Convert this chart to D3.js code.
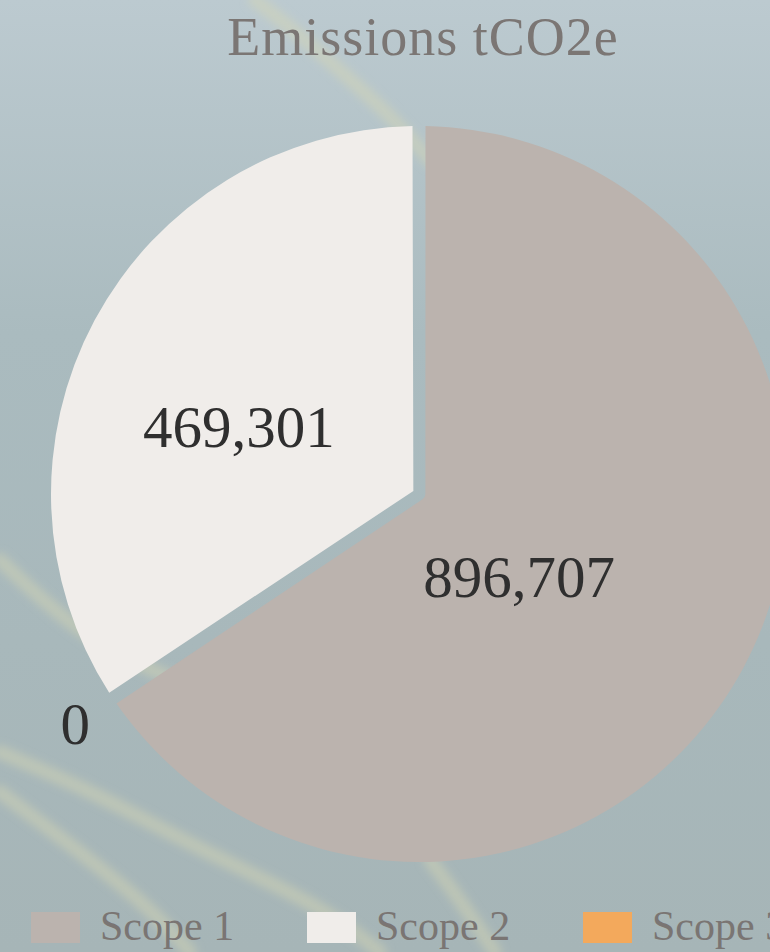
<!DOCTYPE html>
<html lang="en">
	<head>
		<meta charset="utf-8">
		<title>Emissions tCO2e</title>
		<script type="text/javascript" src="https://d3js.org/d3.v7.min.js"></script>
		<style type="text/css">
			html, body {
				margin: 0;
				padding: 0;
				overflow: hidden;
				background: #a7b7b9;
			}
			svg {
				display: block;
				font-family: "Liberation Serif", "DejaVu Serif", serif;
			}
		</style>
	</head>
	<body>
		<script type="text/javascript">

			//Data
			var categories = ["Scope 1", "Scope 2", "Scope 3"];
			var values = [896707, 469301, 0];
			var colors = ["#bbb3ae", "#f0edea", "#f3a95c"];
			//Order the slices run clockwise from the top
			var sliceOrder = ["Scope 1", "Scope 3", "Scope 2"];
			var title = "Emissions tCO2e";

			//Size
			var w = 770;
			var h = 952;
			var cx = 419;
			var cy = 494;
			var radius = 368;
			var gap = 13;

			var svg = d3.select("body")
						.append("svg")
						.attr("width", w)
						.attr("height", h);

			//Background, a soft photo-like wash
			var defs = svg.append("defs");
			var grad = defs.append("linearGradient")
						   .attr("id", "bg")
						   .attr("x1", 0).attr("y1", 0)
						   .attr("x2", 0).attr("y2", 1);
			grad.append("stop").attr("offset", "0%").attr("stop-color", "#bccad0");
			grad.append("stop").attr("offset", "35%").attr("stop-color", "#aabbbf");
			grad.append("stop").attr("offset", "100%").attr("stop-color", "#a6b5b7");

			defs.append("filter")
				.attr("id", "blur")
				.attr("x", "-20%").attr("y", "-20%")
				.attr("width", "140%").attr("height", "140%")
				.append("feGaussianBlur")
				.attr("stdDeviation", 4);

			svg.append("rect")
			   .attr("width", w)
			   .attr("height", h)
			   .attr("fill", "url(#bg)");

			//Streaks in the background picture
			var streaks = [
				[[255, 0], [300, 35], [345, 75], [390, 115], [430, 160]],
				[[0, 560], [40, 598], [85, 635], [130, 660], [175, 680]],
				[[0, 752], [100, 795], [200, 850], [320, 905], [380, 952]],
				[[0, 792], [80, 852], [150, 908], [190, 952]],
				[[430, 860], [460, 900], [495, 952]]
			];
			var streakLine = d3.line().curve(d3.curveBasis);
			svg.append("g")
			   .attr("filter", "url(#blur)")
			   .selectAll("path")
			   .data(streaks)
			   .enter()
			   .append("path")
			   .attr("d", streakLine)
			   .attr("fill", "none")
			   .attr("stroke", "#d8d8b4")
			   .attr("stroke-opacity", 0.45)
			   .attr("stroke-width", 14)
			   .attr("stroke-linecap", "round");

			//Pie
			var pie = d3.pie()
						.sort(function(a, b) {
							return sliceOrder.indexOf(a.name) - sliceOrder.indexOf(b.name);
						})
						.value(function(d) { return d.value; });
			var arcs = pie(categories.map(function(c, i) {
				return { name: c, value: values[i], index: i };
			}));

			var arc = d3.arc()
						.innerRadius(6.4)
						.outerRadius(radius)
						.padRadius(radius)
						.padAngle(gap / radius);

			var labelArc = d3.arc()
							 .innerRadius(radius / 2)
							 .outerRadius(radius / 2);

			var outerArc = d3.arc()
							 .innerRadius(radius + 45)
							 .outerRadius(radius + 45);

			var g = svg.append("g")
					   .attr("transform", "translate(" + cx + "," + cy + ")");

			g.selectAll("path")
			 .data(arcs.filter(function(d) { return d.value > 0; }))
			 .enter()
			 .append("path")
			 .attr("d", arc)
			 .attr("fill", function(d) { return colors[d.data.index]; });

			//Value labels: inside the slices, outside for empty ones
			var nudge = [[-62, -4], [-18, 19], [0, 0]];
			var fmt = d3.format(",");
			g.selectAll("text.value")
			 .data(arcs)
			 .enter()
			 .append("text")
			 .attr("class", "value")
			 .attr("transform", function(d) {
			 	var p = d.value > 0 ? labelArc.centroid(d) : outerArc.centroid(d);
			 	var n = nudge[d.data.index];
			 	return "translate(" + (p[0] + n[0]) + "," + (p[1] + n[1]) + ")";
			 })
			 .attr("dy", "0.35em")
			 .attr("text-anchor", "middle")
			 .attr("font-size", "59px")
			 .attr("fill", "#2f2f2f")
			 .text(function(d) { return fmt(d.value); });

			//Title
			svg.append("text")
			   .attr("x", 423)
			   .attr("y", 55)
			   .attr("text-anchor", "middle")
			   .attr("font-size", "54px")
			   .attr("letter-spacing", "1px")
			   .attr("fill", "#7b7674")
			   .text(title);

			//Legend
			var legendX = d3.scaleLinear()
							.domain([0, 1])
							.range([31, 307]);

			var legend = svg.selectAll("g.legend")
							.data(categories)
							.enter()
							.append("g")
							.attr("class", "legend")
							.attr("transform", function(d, i) {
								return "translate(" + legendX(i) + ",912)";
							});

			legend.append("rect")
				  .attr("width", 49)
				  .attr("height", 31)
				  .attr("fill", function(d, i) { return colors[i]; });

			legend.append("text")
				  .attr("x", 69)
				  .attr("y", 28)
				  .attr("font-size", "42px")
				  .attr("fill", "#7a7573")
				  .text(function(d) { return d; });

		</script>
	</body>
</html>
